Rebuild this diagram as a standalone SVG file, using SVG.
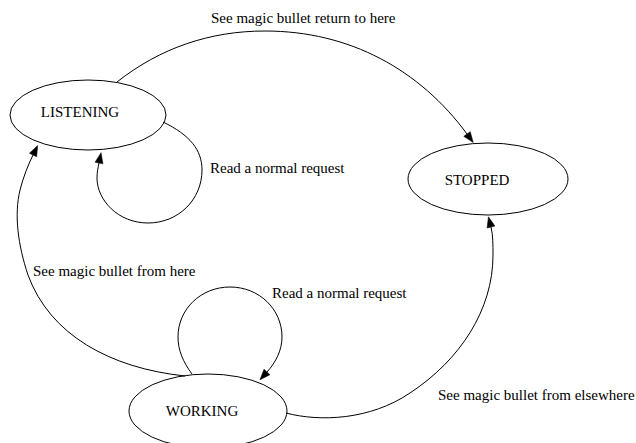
<svg xmlns="http://www.w3.org/2000/svg" width="636" height="443" viewBox="0 0 636 443">
  <style>
    .node ellipse { fill: #ffffff; stroke: #000000; stroke-width: 1; }
    .node text { text-anchor: middle; }
    .edge { fill: none; stroke: #000000; stroke-width: 1; marker-end: url(#arrow); }
  </style>
  <defs>
    <marker id="arrow" markerUnits="userSpaceOnUse" markerWidth="11" markerHeight="9" refX="0" refY="4" orient="auto" overflow="visible">
      <path d="M0,0 L10.5,4 L0,8 Z" fill="#000000" stroke="#000000" stroke-width="0.5"/>
    </marker>
  </defs>
  <rect width="636" height="443" fill="#ffffff"/>

  <g font-family="'Liberation Serif', 'Times New Roman', Times, serif" font-size="15" fill="#000000">
    <!-- state nodes -->
    <g id="listening" class="node">
      <ellipse cx="88" cy="115" rx="78" ry="35"/>
      <text x="80" y="117">LISTENING</text>
    </g>
    <g id="stopped" class="node">
      <ellipse cx="488" cy="179" rx="80" ry="36"/>
      <text x="477" y="185">STOPPED</text>
    </g>
    <g id="working" class="node">
      <ellipse cx="208" cy="411" rx="79" ry="37"/>
      <text x="202" y="416">WORKING</text>
    </g>

    <!-- transitions -->
    <g id="edges">
      <path class="edge" d="M117,82 C160,48 210,31 265,31 C350,31 420,70 467,134"/>
      <path class="edge" d="M163,122 C190,135 202,150 202,170 C202,200 178,223 148,223 C118,223 97,200 97,178 C97,172 98,168 99,163"/>
      <path class="edge" d="M192,374 C183,362 178,350 178,337 C178,309 201,287 230,287 C259,287 282,309 282,337 C282,350 276,362 267,372"/>
      <path class="edge" d="M185,376 C110,368 50,335 28,275 C18,245 14,215 20,190 C23,178 28,165 33,155"/>
      <path class="edge" d="M286,413 C320,422 370,420 410,393 C460,360 493,310 493,255 C493,245 493,235 491,227"/>
    </g>

    <!-- transition labels -->
    <g id="edge-labels">
      <text x="211" y="23">See magic bullet return to here</text>
      <text x="210" y="173">Read a normal request</text>
      <text x="33" y="276">See magic bullet from here</text>
      <text x="272" y="298">Read a normal request</text>
      <text x="438" y="400">See magic bullet from elsewhere</text>
    </g>
  </g>
</svg>
